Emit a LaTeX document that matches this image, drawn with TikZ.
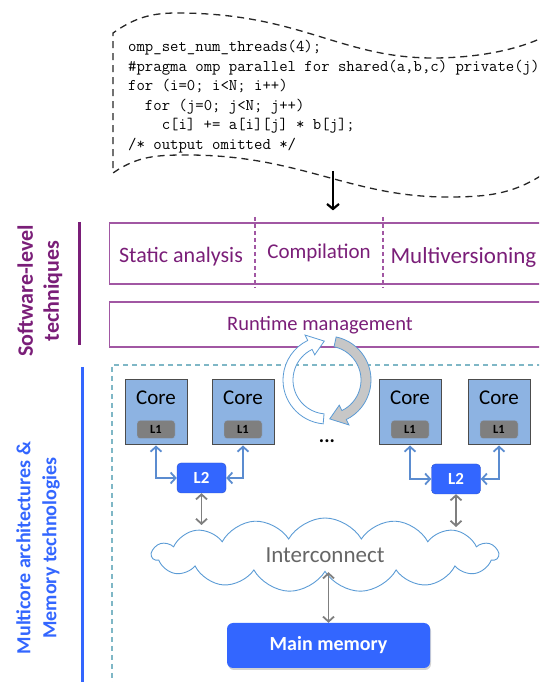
\documentclass[tikz,border=0pt]{standalone}
\usepackage{fontspec}
\setmainfont{Carlito}
\usepackage{tikz}
\usetikzlibrary{
  positioning, calc, shapes.symbols, arrows.meta, shadows}
\tikzset{
    SwBox/.style = {
        draw=uPurpleLine, line width=1.2pt, anchor=west,
        minimum width=460, minimum height=61
    },
    SwText/.style = {text=uPurple, font=\fontsize{#1}{24}\selectfont},
    SwText/.default={20.5},
    SideLabel/.style = {
        rotate=90, align=center, font=\bfseries\fontsize{#1}{26}\selectfont
    },
    SideLabel/.default={20},
    CoreBox/.style = {
        draw=black!70, fill=uCore, line width=1pt,
        minimum width=62, minimum height=65
    },
    CoreText/.style = {font=\fontsize{21}{24}\selectfont},
    CacheOne/.style = {
        draw=uLink!70, fill=uGray, rounded corners=3, inner sep=0,
        minimum width=38, minimum height=18,
        font=\bfseries\fontsize{12.5}{14}\selectfont
    },
    CacheTwo/.style = {
        draw=uBlue!80!black, fill=uBlue, rounded corners=4, inner sep=0,
        minimum width=49, minimum height=30, text=white,
        font=\bfseries\fontsize{17}{20}\selectfont
    },
    Link/.style = {
        color=#1, line width=1.8pt,
        {Straight Barb[length=5pt, width=11pt]}-{Straight Barb[length=5pt, width=11pt]}
    },
    Link/.default={uLink},
    CodeArrow/.style = {
        line width=2.2pt, -{Straight Barb[length=5pt, width=12pt]}
    },
    Spin/.style = {draw=uCloud, line width=0.8pt},
    MainMem/.style = {
        fill=uBlue, rounded corners=6, minimum width=203, minimum height=45,
        text=white, font=\bfseries\fontsize{20}{24}\selectfont,
        drop shadow={opacity=0.35, shadow xshift=1pt, shadow yshift=-2pt}
    }
}
\definecolor{uPurple}{HTML}{7A1E78}
\definecolor{uPurpleLine}{HTML}{A157A3}
\definecolor{uBlue}{HTML}{3366FF}
\definecolor{uCore}{HTML}{8DB3E2}
\definecolor{uLink}{HTML}{5B8CD0}
\definecolor{uTeal}{HTML}{7FB7C6}
\definecolor{uGray}{HTML}{7F7F7F}
\definecolor{uCloud}{HTML}{5B9BD5}

\begin{document}
\begin{tikzpicture}[x=1pt, y=1pt]
    \clip (0,0) rectangle (539,682);

    \node[anchor=north west, inner sep=0, align=left,
          font=\ttfamily\fontsize{16.3}{19.6}\selectfont] (code) at (128,642)
        {omp\_set\_num\_threads(4);\\
         \#pragma omp parallel for shared(a,b,c) private(j)\\
         for (i=0; i<N; i++)\\
         ~~for (j=0; j<N; j++)\\
         ~~~~c[i] += a[i][j] * b[j];\\
         /* output omitted */};
    \draw[black!85, line width=1.3pt, dash pattern=on 7pt off 5pt]
        (548,647) .. controls (515,630) and (470,624) .. (433,624)
        .. controls (340,624) and (300,669) .. (177,669)
        to[out=180, in=35] (113,649) -- (113,509)
        to[out=35, in=180] (187,527)
        .. controls (300,527) and (350,485) .. (447,485)
        to[out=0, in=215] (548,511);
    \coordinate (codeEnd) at (333,511);

    \node[SwBox] (sw) at (109,428.5) {};
    \node[SwBox, minimum height=45] (rt) at (109,357.5) {};
    \draw[CodeArrow] (codeEnd) -- ([yshift=12]codeEnd |- sw.north);
    \draw[uPurpleLine, line width=1.2pt, dash pattern=on 4pt off 3pt] (255,465) -- (255,394);
    \draw[uPurpleLine, line width=1.2pt, dash pattern=on 4pt off 3pt] (383,465) -- (383,394);
    \node[SwText=22] (sa) at (181,425) {Static analysis};
    \node[SwText=21] (comp) at (319,429) {Compilation};
    \node[SwText=23, anchor=west] (mv) at (387,425) {Multiversioning};
    \node[SwText=20.5] (rm) at (320,357) {Runtime management};

    \node[SideLabel=22, text=uPurple] (swLab) at (40,391) {Software-level\\techniques};
    \draw[uPurple, line width=3pt] (79,460) -- (79,337);
    \node[SideLabel=20, text=uBlue] (hwLab) at (38,134) {Multicore architectures \&\\Memory technologies};
    \draw[uBlue, line width=3pt] (82,315) -- (82,-5);

    \draw[uTeal, line width=1.2pt, dash pattern=on 5pt off 4pt] (560,317) -| (112,-5);

    \node[CoreBox] (c1) at (156,269.5) {};
    \node[CoreBox, right=24pt of c1] (c2) {};
    \node[CoreBox] (c3) at (410,269.5) {};
    \node[CoreBox, right=26pt of c3] (c4) {};
    \node[CoreText] at ([yshift=-18]c1.north) {Core};
    \node[CoreText] at ([yshift=-18]c2.north) {Core};
    \node[CoreText] at ([yshift=-18]c3.north) {Core};
    \node[CoreText] at ([yshift=-18]c4.north) {Core};
    \node[CacheOne] (l1a) at ([yshift=16]c1.south) {L1};
    \node[CacheOne] (l1b) at ([yshift=16]c2.south) {L1};
    \node[CacheOne] (l1c) at ([yshift=16]c3.south) {L1};
    \node[CacheOne] (l1d) at ([yshift=16]c4.south) {L1};
    \node[font=\bfseries\fontsize{20}{20}\selectfont] (dots) at (327,241) {...};

    \node[CacheTwo] (l2a) at (201.5,204) {L2};
    \node[CacheTwo] (l2b) at (456,203) {L2};
    \draw[Link] (c1.south) |- (l2a.west);
    \draw[Link] (c2.south) |- (l2a.east);
    \draw[Link] (c3.south) |- (l2b.west);
    \draw[Link] (c4.south) |- (l2b.east);

    \node[cloud, cloud puffs=15, cloud puff arc=120, aspect=4.6, draw=uCloud,
          line width=0.9pt, minimum width=346, minimum height=74, inner sep=0,
          text=black!60, font=\fontsize{23}{26}\selectfont] (net) at (325,127) {Interconnect};
    \node[MainMem] (mem) at (328.5,36.5) {Main memory};
    \draw[Link=uGray, shorten >=30pt] (l2a.south) -- (l2a.south |- net.center);
    \draw[Link=uGray, shorten >=28pt] (l2b.south) -- (l2b.south |- net.center);
    \draw[Link=uGray] (mem.north |- net.south) -- (mem.north);

    \begin{scope}[shift={(327,302)}]
        \draw[Spin, fill=white] (265:44) arc[start angle=265, end angle=116, radius=44]
            -- (116:50) -- (94:39) -- (116:28) -- (116:34)
            arc[start angle=116, end angle=265, radius=34] -- cycle;
        \draw[Spin, fill=black!22] (78:44) arc[start angle=78, end angle=-64, radius=44]
            -- (-64:50) -- (-86:39) -- (-64:28) -- (-64:34)
            arc[start angle=-64, end angle=78, radius=34] -- cycle;
    \end{scope}
\end{tikzpicture}
\end{document}
